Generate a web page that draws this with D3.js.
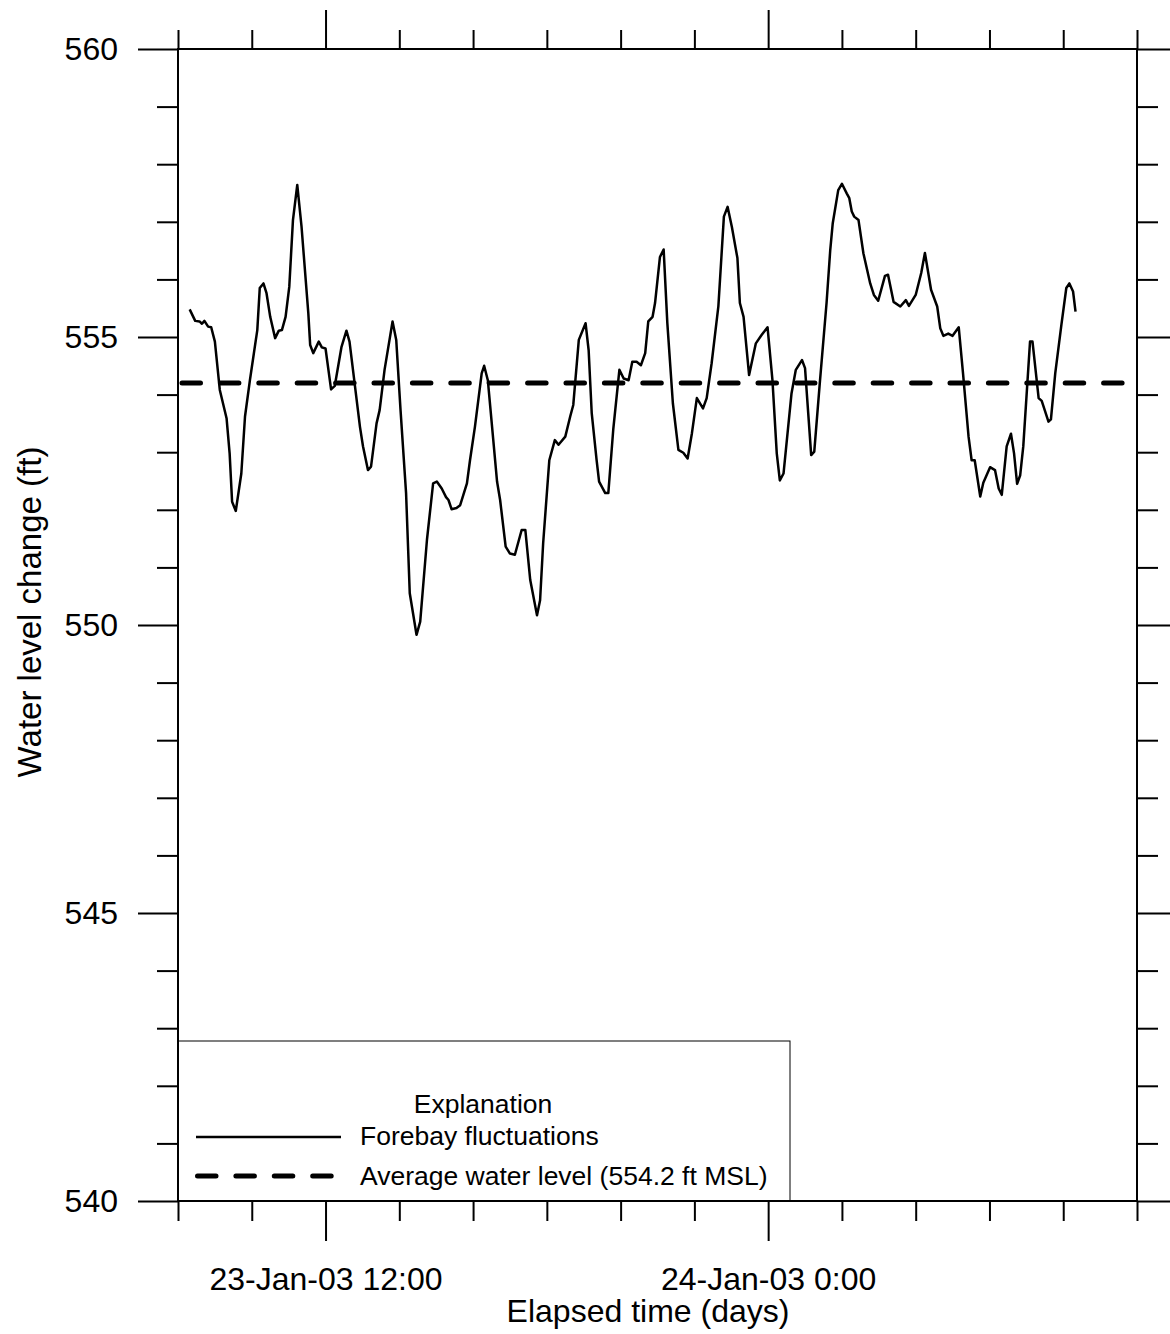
<!DOCTYPE html>
<html>
<head>
<meta charset="utf-8">
<script src="https://cdn.jsdelivr.net/npm/d3@7/dist/d3.min.js"></script>
<style>
  html, body { margin: 0; padding: 0; background: #fff; }
  svg { display: block; font-family: "Liberation Sans", Arial, sans-serif; }
</style>
</head>
<body>
<svg id="chart" width="1170" height="1334"></svg>
<script>
// Forebay record starts at 23-Jan-03 08:00; readings are minutes after that time.
const recordStart = new Date(2003, 0, 23, 8, 0);
const axisEnd = new Date(2003, 0, 24, 10, 0);

const elapsedMinutes = [
  19, 28, 35, 39, 43, 49, 54, 60, 68, 79, 84, 88, 94, 103, 109, 117, 129, 133, 139, 144,
  150, 158, 164, 169, 175, 181, 187, 194, 201, 212, 215, 220, 229, 234, 240, 249, 255, 266, 274, 279,
  296, 301, 309, 314, 323, 328, 336, 349, 355, 362, 371, 377, 388, 394, 405, 415, 421, 429, 436, 440,
  445, 453, 459, 470, 475, 483, 494, 498, 504, 519, 524, 533, 540, 548, 559, 565, 573, 584, 589, 594,
  604, 613, 619, 630, 638, 643, 652, 663, 668, 673, 681, 685, 695, 700, 708, 718, 725, 733, 739, 746,
  753, 760, 765, 772, 776, 784, 790, 796, 805, 814, 822, 829, 836, 844, 854, 860, 868, 879, 888, 894,
  901, 910, 914, 920, 929, 940, 949, 959, 967, 974, 979, 985, 998, 1005, 1015, 1020, 1030, 1035, 1044, 1055,
  1061, 1065, 1074, 1080, 1088, 1092, 1096, 1100, 1107, 1115, 1126, 1132, 1139, 1150, 1155, 1164, 1175, 1184, 1189, 1200,
  1209, 1215, 1225, 1235, 1240, 1245, 1253, 1260, 1270, 1277, 1286, 1291, 1296, 1305, 1310, 1321, 1329, 1335, 1340, 1348,
  1355, 1360, 1365, 1370, 1375, 1386, 1390, 1400, 1405, 1416, 1420, 1427, 1437, 1445, 1450, 1456, 1460
];

const forebayLevel = [
  555.48, 555.28, 555.27, 555.23, 555.28, 555.18, 555.17, 554.92, 554.08, 553.59, 552.98, 552.14, 551.98, 552.63, 553.62, 554.25, 555.12, 555.85, 555.93, 555.76,
  555.35, 554.98, 555.11, 555.12, 555.35, 555.87, 557.03, 557.64, 556.91, 555.41, 554.86, 554.72, 554.92, 554.82, 554.80, 554.09, 554.15, 554.83, 555.11, 554.92,
  553.44, 553.10, 552.69, 552.75, 553.50, 553.73, 554.43, 555.27, 554.95, 553.73, 552.29, 550.55, 549.83, 550.06, 551.48, 552.46, 552.49, 552.37, 552.22, 552.17,
  552.01, 552.03, 552.08, 552.46, 552.86, 553.44, 554.37, 554.50, 554.25, 552.49, 552.17, 551.36, 551.24, 551.22, 551.65, 551.65, 550.78, 550.17, 550.43, 551.42,
  552.86, 553.21, 553.13, 553.27, 553.62, 553.82, 554.95, 555.24, 554.77, 553.68, 552.86, 552.49, 552.29, 552.29, 553.39, 554.43, 554.28, 554.25, 554.57, 554.57,
  554.51, 554.72, 555.27, 555.35, 555.59, 556.39, 556.52, 555.24, 553.85, 553.04, 552.99, 552.89, 553.33, 553.94, 553.76, 553.94, 554.54, 555.53, 557.09, 557.26,
  556.91, 556.37, 555.59, 555.35, 554.34, 554.89, 555.03, 555.17, 554.25, 552.98, 552.51, 552.63, 554.02, 554.43, 554.60, 554.46, 552.95, 553.01, 554.20, 555.59,
  556.51, 556.97, 557.55, 557.66, 557.49, 557.41, 557.18, 557.09, 557.03, 556.45, 555.93, 555.73, 555.63, 556.06, 556.08, 555.61, 555.53, 555.64, 555.54, 555.73,
  556.11, 556.46, 555.82, 555.53, 555.15, 555.02, 555.06, 555.02, 555.17, 554.37, 553.27, 552.86, 552.86, 552.23, 552.47, 552.74, 552.69, 552.37, 552.26, 553.10,
  553.32, 552.98, 552.45, 552.60, 553.10, 554.92, 554.92, 553.94, 553.89, 553.53, 553.57, 554.37, 555.21, 555.85, 555.93, 555.79, 555.44
];

const averageLevel = 554.2;
const yMajorTicks = [540, 545, 550, 555, 560];
const yMinorTicks = d3.range(540, 561, 1).filter(v => v % 5 !== 0);
const xLabelledTicks = [new Date(2003, 0, 23, 12, 0), new Date(2003, 0, 24, 0, 0)];

const legendTitle = "Explanation";
const legendSeries = "Forebay fluctuations";
const legendAverage = "Average water level (554.2 ft MSL)";
const xTitle = "Elapsed time (days)";
const yTitle = "Water level change (ft)";

const plot = { left: 178, right: 1137, top: 49, bottom: 1201 };

const svg = d3.select("#chart");

const x = d3.scaleTime().domain([recordStart, axisEnd]).range([plot.left, plot.right]);
const y = d3.scaleLinear().domain([540, 560]).range([plot.bottom, plot.top]);

const series = elapsedMinutes.map((m, i) => ({ t: d3.timeMinute.offset(recordStart, m), v: forebayLevel[i] }));

const xAllTicks = d3.timeHour.every(2).range(recordStart, d3.timeMinute.offset(axisEnd, 1));
const isLabelled = d => xLabelledTicks.some(t => +t === +d);
const xMinorTicks = xAllTicks.filter(d => !isLabelled(d));
const fmt = d3.timeFormat("%d-%b-%y %-H:%M");

function styleAxis(g) {
  g.select(".domain").remove();
  g.selectAll(".tick line").attr("stroke", "#000").attr("stroke-width", 2);
  g.selectAll(".tick text").attr("fill", "#000").attr("font-size", 32)
    .attr("font-family", "'Liberation Sans', Arial, sans-serif");
}

// ticks on all four sides, pointing outward
svg.append("g").attr("transform", `translate(0,${plot.bottom})`)
  .call(d3.axisBottom(x).tickValues(xMinorTicks).tickSize(20).tickFormat("")).call(styleAxis);
svg.append("g").attr("transform", `translate(0,${plot.bottom})`)
  .call(d3.axisBottom(x).tickValues(xLabelledTicks).tickSize(40).tickPadding(26).tickFormat(fmt)).call(styleAxis);
svg.append("g").attr("transform", `translate(0,${plot.top})`)
  .call(d3.axisTop(x).tickValues(xMinorTicks).tickSize(19).tickFormat("")).call(styleAxis);
svg.append("g").attr("transform", `translate(0,${plot.top})`)
  .call(d3.axisTop(x).tickValues(xLabelledTicks).tickSize(39).tickFormat("")).call(styleAxis);

svg.append("g").attr("transform", `translate(${plot.left},0)`)
  .call(d3.axisLeft(y).tickValues(yMinorTicks).tickSize(21).tickFormat("")).call(styleAxis);
svg.append("g").attr("transform", `translate(${plot.left},0)`)
  .call(d3.axisLeft(y).tickValues(yMajorTicks).tickSize(40).tickPadding(20).tickFormat(d3.format("d"))).call(styleAxis);
svg.append("g").attr("transform", `translate(${plot.right},0)`)
  .call(d3.axisRight(y).tickValues(yMinorTicks).tickSize(21).tickFormat("")).call(styleAxis);
svg.append("g").attr("transform", `translate(${plot.right},0)`)
  .call(d3.axisRight(y).tickValues(yMajorTicks).tickSize(40).tickFormat("")).call(styleAxis);

// plot frame
svg.append("rect")
  .attr("x", plot.left).attr("y", plot.top)
  .attr("width", plot.right - plot.left).attr("height", plot.bottom - plot.top)
  .attr("fill", "none").attr("stroke", "#000").attr("stroke-width", 2);

// average water level
svg.append("line")
  .attr("x1", x(recordStart)).attr("x2", x(axisEnd))
  .attr("y1", y(averageLevel)).attr("y2", y(averageLevel))
  .attr("stroke", "#000").attr("stroke-width", 5)
  .attr("stroke-linecap", "round")
  .attr("stroke-dasharray", "18.5 19.9").attr("stroke-dashoffset", -4);

// forebay fluctuations
svg.append("path")
  .datum(series)
  .attr("fill", "none").attr("stroke", "#000").attr("stroke-width", 2.5)
  .attr("stroke-linejoin", "round")
  .attr("d", d3.line().x(d => x(d.t)).y(d => y(d.v)));

// legend
const legend = { x0: plot.left, x1: 790, y0: 1041, y1: plot.bottom };
const lg = svg.append("g");
lg.append("rect")
  .attr("x", legend.x0).attr("y", legend.y0)
  .attr("width", legend.x1 - legend.x0).attr("height", legend.y1 - legend.y0)
  .attr("fill", "#fff").attr("stroke", "#000").attr("stroke-width", 1);
lg.append("text").attr("x", 483).attr("y", 1113).attr("text-anchor", "middle")
  .attr("font-size", 26.5).text(legendTitle);
lg.append("line").attr("x1", 196).attr("x2", 341).attr("y1", 1137).attr("y2", 1137)
  .attr("stroke", "#000").attr("stroke-width", 2.5);
lg.append("text").attr("x", 360).attr("y", 1145).attr("font-size", 26.5).text(legendSeries);
lg.append("line").attr("x1", 197.5).attr("x2", 335).attr("y1", 1176).attr("y2", 1176)
  .attr("stroke", "#000").attr("stroke-width", 5).attr("stroke-linecap", "round")
  .attr("stroke-dasharray", "18.5 19.9");
lg.append("text").attr("x", 360).attr("y", 1185).attr("font-size", 26.5).text(legendAverage);

// redraw frame edges covered by the legend box
svg.append("line").attr("x1", plot.left).attr("x2", plot.left).attr("y1", plot.top).attr("y2", plot.bottom)
  .attr("stroke", "#000").attr("stroke-width", 2);
svg.append("line").attr("x1", plot.left).attr("x2", plot.right).attr("y1", plot.bottom).attr("y2", plot.bottom)
  .attr("stroke", "#000").attr("stroke-width", 2);

// axis titles
svg.append("text").attr("x", 648).attr("y", 1322).attr("text-anchor", "middle")
  .attr("font-size", 32).text(xTitle);
svg.append("text").attr("transform", "translate(41,612) rotate(-90)").attr("text-anchor", "middle")
  .attr("font-size", 33).text(yTitle);
</script>
</body>
</html>
